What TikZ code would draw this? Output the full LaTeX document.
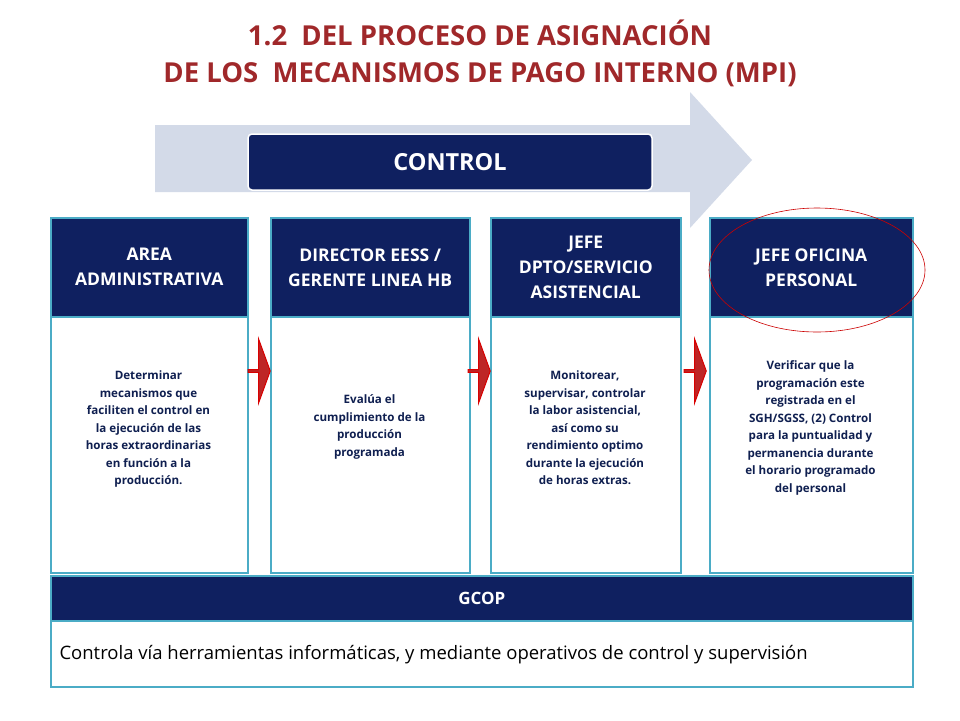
\documentclass[tikz,border=0pt]{standalone}
\usepackage{fontspec}
\setmainfont{Open Sans}
\usetikzlibrary{shapes.arrows}
\definecolor{navy}{HTML}{0F2060}
\definecolor{teal}{HTML}{4BACC6}
\definecolor{titlered}{HTML}{A0282A}
\definecolor{arrowbg}{HTML}{D3DAE8}
\definecolor{txt}{HTML}{0F1F50}
\tikzset{
 x=1pt,y=-1pt,
 head/.style={draw=teal,line width=1.5pt,fill=navy,text=white,font=\bfseries\fontsize{17.5}{25}\selectfont,align=center,anchor=north west,inner sep=0pt},
 body/.style={draw=teal,line width=1.5pt,fill=white,anchor=north west,inner sep=0pt},
 btxt/.style={text=txt,font=\bfseries\fontsize{11.6}{17.5}\selectfont,align=center},
 redarrow/.style={single arrow,draw=red!85!black,line width=1pt,fill=red!70!black!85,minimum height=22pt,minimum width=64pt,single arrow head extend=12pt,single arrow tip angle=140,single arrow head indent=0pt,inner sep=0pt,shape border rotate=0}
}
\begin{document}
\begin{tikzpicture}
\useasboundingbox (0,0) rectangle (960,720);
\node[text=titlered,font=\bfseries\fontsize{27.5}{37}\selectfont,align=center] (title) at (480,53) {1.2\ \ DEL PROCESO DE ASIGNACIÓN\\DE LOS\ \ MECANISMOS DE PAGO INTERNO (MPI)};
\fill[arrowbg] (155,125) -- (690,125) -- (690,92) -- (752,160) -- (690,228) -- (690,192) -- (155,192) -- cycle;
\node[draw=white,line width=1.5pt,fill=navy,rounded corners=4pt,text=white,font=\bfseries\fontsize{23.5}{26}\selectfont,minimum width=404pt,minimum height=56pt] (control) at (450,162) {CONTROL};
% columns
\node[head,minimum width=197pt,minimum height=99pt] (h1) at (50,217) {AREA\\ADMINISTRATIVA};
\node[head,minimum width=199pt,minimum height=99pt] (h2) at (270,217) {DIRECTOR EESS /\\GERENTE LINEA HB};
\node[head,minimum width=190pt,minimum height=99pt] (h3) at (490,217) {JEFE\\DPTO/SERVICIO\\ASISTENCIAL};
\node[head,minimum width=203pt,minimum height=99pt] (h4) at (709,217) {JEFE OFICINA\\PERSONAL};
\node[body,minimum width=197pt,minimum height=256pt] (b1) at (50,316) {};
\node[body,minimum width=199pt,minimum height=256pt] (b2) at (270,316) {};
\node[body,minimum width=190pt,minimum height=256pt] (b3) at (490,316) {};
\node[body,minimum width=203pt,minimum height=256pt] (b4) at (709,316) {};
\node[btxt] (t1) at (148.5,429) {Determinar\\mecanismos que\\faciliten el control en\\la ejecución de las\\horas extraordinarias\\en función a la\\producción.};
\node[btxt] (t2) at (369.5,427) {Evalúa el\\cumplimiento de la\\producción\\programada};
\node[btxt] (t3) at (585,428) {Monitorear,\\supervisar, controlar\\la labor asistencial,\\así como su\\rendimiento optimo\\durante la ejecución\\de horas extras.};
\node[btxt] (t4) at (810.5,428) {Verificar que la\\programación este\\registrada en el\\SGH/SGSS, (2) Control\\para la puntualidad y\\permanencia durante\\el horario programado\\del personal};
\node[redarrow] (a1) at (259,371) {};
\node[redarrow] (a2) at (479,371) {};
\node[redarrow] (a3) at (695,371) {};
% GCOP
\node[head,font=\bfseries\fontsize{17}{20}\selectfont,minimum width=862pt,minimum height=45pt] (gh) at (50,575) {GCOP};
\node[body,minimum width=862pt,minimum height=66pt] (gb) at (50,620) {};
\node[anchor=west,text=black,font=\fontsize{18.5}{20}\selectfont] (gt) at (56,655) {Controla vía herramientas informáticas, y mediante operativos de control y supervisión};
\draw[red!80!black,line width=0.6pt] (817,270) ellipse [x radius=108,y radius=62];
\end{tikzpicture}
\end{document}
